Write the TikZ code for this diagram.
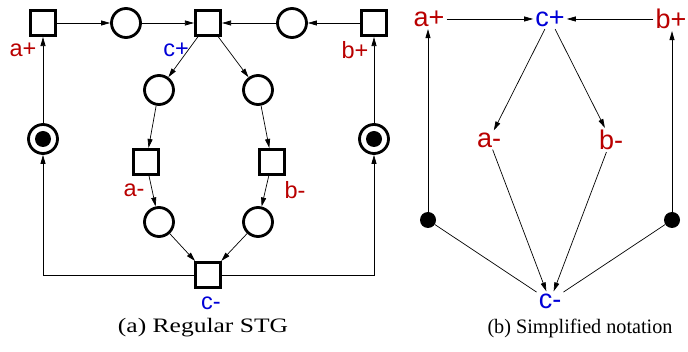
\documentclass[tikz,border=0pt]{standalone}
\usepackage{graphicx}
\usepackage{fontspec}
\newfontfamily\lab{Liberation Sans}
\newfontfamily\capfont{Liberation Serif}
\usetikzlibrary{arrows.meta}
\definecolor{lred}{RGB}{185,0,0}
\definecolor{lblue}{RGB}{0,0,215}
\begin{document}
\begin{tikzpicture}[x=1pt,y=-1pt,
  trans/.style={draw, rectangle, line width=2.6pt, minimum size=25.5pt, inner sep=0pt},
  place/.style={draw, circle, line width=2.8pt, minimum size=29pt, inner sep=0pt},
  arr/.style={-{Triangle[length=9pt,width=5pt]}, line width=0.7pt},
  lnk/.style={line width=0.7pt},
  slab/.style={font=\lab\fontsize{23.5}{23.5}\selectfont, inner sep=0pt},
  blab/.style={font=\lab\fontsize{27}{27}\selectfont, inner sep=2pt},
  captext/.style={font=\capfont\fontsize{20.5}{24}\selectfont, inner sep=0pt},
  tok/.style={fill, circle, minimum size=16pt, inner sep=0pt}
]
\useasboundingbox (0,0) rectangle (688,352);
% ---------- (a) Regular STG ----------
\node[trans] (ap) at (43,23) {};
\node[trans] (cp) at (208,23) {};
\node[trans] (bp) at (374,23) {};
\node[place] (p1) at (126,23) {};
\node[place] (p2) at (292,23) {};
\node[place] (p3) at (159,90) {};
\node[place] (p4) at (258,90) {};
\node[trans] (am) at (146,162) {};
\node[trans] (bm) at (272,162) {};
\node[place] (p5) at (159,222) {};
\node[place] (p6) at (258,222) {};
\node[trans] (cm) at (208,275) {};
\node[place] (ml) at (43,139) {};
\node[tok] (tl) at (ml.center) {};
\node[place] (mr) at (374,139) {};
\node[tok] (tr) at (mr.center) {};
\coordinate (cl) at (43,275);
\coordinate (cr) at (374,275);

\node[slab, text=lred] (lap) at (23,50) {a+};
\node[slab, text=lblue] (lcp) at (176,50) {c+};
\node[slab, text=lred] (lbp) at (355,50) {b+};
\node[slab, text=lred] (lam) at (134,190) {a-};
\node[slab, text=lred] (lbm) at (295,190) {b-};
\node[slab, text=lblue] (lcm) at (211,303) {c-};

\draw[arr] (ap) -- (p1);
\draw[arr] (p1) -- (cp);
\draw[arr] (bp) -- (p2);
\draw[arr] (p2) -- (cp);
\draw[arr] (cp) -- (p3);
\draw[arr] (cp) -- (p4);
\draw[arr] (p3) -- (am);
\draw[arr] (p4) -- (bm);
\draw[arr] (am) -- (p5);
\draw[arr] (bm) -- (p6);
\draw[arr] (p5) -- (cm);
\draw[arr] (p6) -- (cm);
\draw[arr] (cm.west) -- (cl) -- (ml);
\draw[arr] (cm.east) -- (cr) -- (mr);
\draw[arr] (ml) -- (ap);
\draw[arr] (mr) -- (bp);

\node[captext] (capa) at (203,328) {\resizebox{170pt}{\height}{(a) Regular STG}};

% ---------- (b) Simplified notation ----------
\node[blab, text=lred] (sap) at (429,19) {a+};
\node[blab, text=lblue] (scp) at (550,19) {c+};
\node[blab, text=lred] (sbp) at (671,19) {b+};
\node[blab, text=lred] (sam) at (489,140) {a-};
\node[blab, text=lred] (sbm) at (611,140) {b-};
\node[blab, text=lblue] (scm) at (550,301) {c-};
\node[tok] (dl) at (428,220) {};
\node[tok] (dr) at (672,220) {};

\draw[arr] (sap) -- (scp);
\draw[arr] (sbp) -- (scp);
\draw[arr] (scp) -- (sam);
\draw[arr] (scp) -- (sbm);
\draw[arr] (sam) -- (scm);
\draw[arr] (sbm) -- (scm);
\draw[lnk] (scm) -- (dl);
\draw[lnk] (scm) -- (dr);
\draw[arr] (dl) -- (sap.south -| dl);
\draw[arr] (dr) -- (sbp.south -| dr);

\node[captext] (capb) at (580,328) {\resizebox{185pt}{\height}{(b) Simplified notation}};
\end{tikzpicture}
\end{document}
